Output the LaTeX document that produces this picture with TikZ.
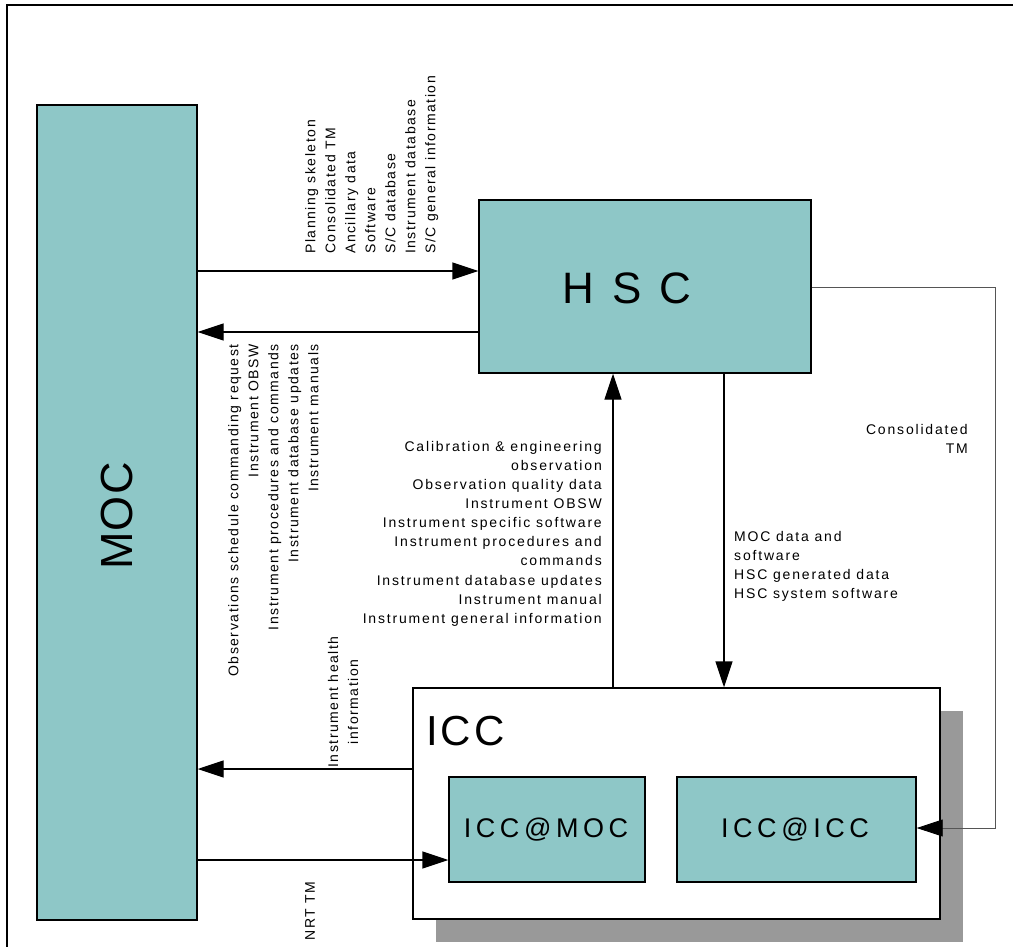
\documentclass[tikz,border=0pt]{standalone}
\usepackage{fontspec}
\setmainfont{Liberation Sans}
\newfontfamily\spaced[LetterSpace=13]{Liberation Sans}
\newfontfamily\vspaced[LetterSpace=11]{Liberation Sans}
\newfontfamily\hscfont[LetterSpace=40]{Liberation Sans}
\newfontfamily\mocfont[LetterSpace=3]{Liberation Sans}
\newfontfamily\iccfont[LetterSpace=7]{Liberation Sans}
\newfontfamily\midspaced[LetterSpace=17]{Liberation Sans}
\usetikzlibrary{arrows.meta}
\definecolor{boxfill}{HTML}{8EC7C7}
\definecolor{shadowgray}{HTML}{999999}
\definecolor{thingray}{HTML}{555555}
\tikzset{
  tealbox/.style={draw=black, line width=1.4pt, fill=boxfill, inner sep=0pt},
  whitebox/.style={draw=black, line width=1.4pt, fill=white, inner sep=0pt},
  flow/.style={line width=1.4pt, -{Triangle[length=26pt,width=17pt]}},
  thinflow/.style={line width=0.9pt, draw=thingray, -{Triangle[length=26pt,width=17pt,fill=black,color=black]}},
  lbl/.style={font=\fontsize{14}{19.1}\spaced, inner sep=0pt},
  vlbl/.style={font=\fontsize{14}{20}\vspaced, inner sep=0pt, rotate=90},
  midlbl/.style={font=\fontsize{27}{30}\midspaced, inner sep=0pt}
}
\begin{document}
\begin{tikzpicture}[x=1pt,y=-1pt]
\useasboundingbox (0,0) rectangle (1013,947);
\clip (0,0) rectangle (1013,947);
% outer frame
\draw[line width=2pt] (7,960) -- (7,5) -- (1030,5);
% MOC
\node[tealbox, minimum width=160pt, minimum height=815pt] (moc) at (117,512.5) {};
\node[font=\fontsize{45}{50}\mocfont, inner sep=0pt, rotate=90] (moclbl) at (117,516) {MOC};
% HSC
\node[tealbox, minimum width=332pt, minimum height=173pt] (hsc) at (645,286.5) {};
\node[font=\fontsize{44}{50}\hscfont, inner sep=0pt] (hsclbl) at (627,288) {HSC};
% ICC shadow and box
\node[fill=shadowgray, inner sep=0pt, minimum width=527pt, minimum height=231pt] (iccshadow) at (699.5,826.5) {};
\node[whitebox, minimum width=527pt, minimum height=231pt] (icc) at (676.5,803.5) {};
\node[font=\fontsize{42}{48}\iccfont, inner sep=0pt, anchor=base west] (icclbl) at (426,745) {ICC};
\node[tealbox, minimum width=196pt, minimum height=105pt] (iccmoc) at (547,829.5) {};
\node[midlbl] (iccmoclbl) at (546,830) {ICC@MOC};
\node[tealbox, minimum width=239pt, minimum height=105pt] (iccicc) at (796.5,829.5) {};
\node[midlbl] (iccicclbl) at (795,830) {ICC@ICC};
% connectors
\draw[flow] (moc.east |- 0,271) -- (hsc.west |- 0,271);
\draw[flow] (hsc.west |- 0,332) -- (moc.east |- 0,332);
\draw[flow] (icc.north -| 613,0) -- (hsc.south -| 613,0);
\draw[flow] (hsc.south -| 724,0) -- (icc.north -| 724,0);
\draw[flow] (icc.west |- 0,769) -- (moc.east |- 0,769);
\draw[flow] (moc.east |- 0,860) -- (iccmoc.west |- 0,860);
\coordinate (c1) at (995,287);
\coordinate (c2) at (995,828);
\draw[thinflow] (hsc.east |- c1) -- (c1) -- (c2) -- (iccicc.east |- c2);
% labels
\node[vlbl, align=left, anchor=north west] (l1) at (305,254)
  {Planning skeleton\\Consolidated TM\\Ancillary data\\Software\\S/C database\\Instrument database\\S/C general information};
\node[vlbl, align=right, anchor=north east] (l2) at (228,344)
  {Observations schedule commanding request\\Instrument OBSW\\Instrument procedures and commands\\Instrument database updates\\Instrument manuals};
\node[lbl, align=right, anchor=north east] (l3) at (602,441)
  {Calibration \& engineering\\observation\\Observation quality data\\Instrument OBSW\\Instrument specific software\\Instrument procedures and\\commands\\Instrument database updates\\Instrument manual\\Instrument general information};
\node[lbl, align=left, anchor=north west] (l4) at (734,531)
  {MOC data and\\software\\HSC generated data\\HSC system software};
\node[lbl, align=right, anchor=north east] (l5) at (968,424)
  {Consolidated\\TM};
\node[vlbl, align=center] (l6) at (343,702)
  {Instrument health\\information};
\node[vlbl] (l7) at (310,911) {NRT TM};
\end{tikzpicture}
\end{document}
